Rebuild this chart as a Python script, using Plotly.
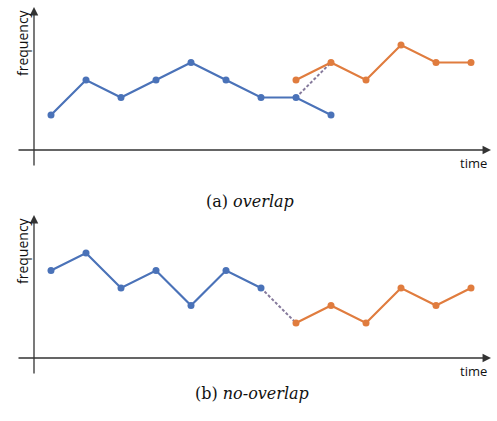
import plotly.graph_objects as go

# ---- data ----
a_blue_x = [0, 1, 2, 3, 4, 5, 6, 7, 8]
a_blue_y = [2, 4, 3, 4, 5, 4, 3, 3, 2]
a_orange_x = [7, 8, 9, 10, 11, 12]
a_orange_y = [4, 5, 4, 6, 5, 5]
a_link_x = [7, 8]
a_link_y = [3, 5]

b_blue_x = [0, 1, 2, 3, 4, 5, 6]
b_blue_y = [5, 6, 4, 5, 3, 5, 4]
b_orange_x = [7, 8, 9, 10, 11, 12]
b_orange_y = [2, 3, 2, 4, 3, 4]
b_link_x = [6, 7]
b_link_y = [4, 2]

captions = ["(a) <i>overlap</i>", "(b) <i>no-overlap</i>"]
x_label = "time"
y_label = "frequency"

BLUE = "#4a72b8"
ORANGE = "#e07c3e"
LINK = "#867a9c"
AX = "#333333"
SERIF = "DejaVu Serif, Liberation Serif, serif"
SANS = "Open Sans, Noto Sans, sans-serif"

W, H = 497, 421
X0, DX = 51, 35.0
DY = 17.5
top_split = 200
base_top, base_bot = 150, 358

xr = [(0 - X0) / DX, (W - X0) / DX]
y1r = [(base_top - top_split) / DY, base_top / DY]
y2r = [(base_bot - H) / DY, (base_bot - top_split) / DY]

fig = go.Figure()

def add_panel(xa, ya, bx, by, ox, oy, lx, ly):
    fig.add_trace(go.Scatter(x=lx, y=ly, mode="lines", xaxis=xa, yaxis=ya,
                             line=dict(color=LINK, width=2, dash="3px,2px"), hoverinfo="skip"))
    fig.add_trace(go.Scatter(x=bx, y=by, mode="lines+markers", xaxis=xa, yaxis=ya,
                             line=dict(color=BLUE, width=2.2), marker=dict(size=7, color=BLUE)))
    fig.add_trace(go.Scatter(x=ox, y=oy, mode="lines+markers", xaxis=xa, yaxis=ya,
                             line=dict(color=ORANGE, width=2.2), marker=dict(size=7, color=ORANGE)))

add_panel("x", "y", a_blue_x, a_blue_y, a_orange_x, a_orange_y, a_link_x, a_link_y)
add_panel("x2", "y2", b_blue_x, b_blue_y, b_orange_x, b_orange_y, b_link_x, b_link_y)

ax_common = dict(visible=False, range=xr, domain=[0, 1], fixedrange=True)
fig.update_layout(
    width=W, height=H,
    margin=dict(l=0, r=0, t=0, b=0),
    paper_bgcolor="white", plot_bgcolor="white",
    showlegend=False,
    xaxis=dict(ax_common, anchor="y"),
    xaxis2=dict(ax_common, anchor="y2"),
    yaxis=dict(visible=False, range=y1r, domain=[1 - top_split / H, 1], fixedrange=True),
    yaxis2=dict(visible=False, range=y2r, domain=[0, 1 - top_split / H], fixedrange=True),
)

x_start = (17 - X0) / DX
x_end = (491 - X0) / DX
yax_x = (34 - X0) / DX
y_lo = -17 / DY
y_hi = 143 / DY

anns = []
for xa, ya in [("x", "y"), ("x2", "y2")]:
    anns.append(dict(x=x_end, y=0, ax=x_start, ay=0, xref=xa, yref=ya, axref=xa, ayref=ya,
                     showarrow=True, arrowhead=2, arrowsize=1.3, arrowwidth=1.3,
                     arrowcolor=AX, text=""))
    anns.append(dict(x=yax_x, y=y_hi, ax=yax_x, ay=y_lo, xref=xa, yref=ya, axref=xa, ayref=ya,
                     showarrow=True, arrowhead=2, arrowsize=1.3, arrowwidth=1.3,
                     arrowcolor=AX, text=""))
    anns.append(dict(x=(473 - X0) / DX, y=-13 / DY, xref=xa, yref=ya, text=x_label,
                     showarrow=False, font=dict(family=SANS, size=13, color="#111")))
    anns.append(dict(x=(22 - X0) / DX, y=107 / DY, xref=xa, yref=ya, text=y_label,
                     textangle=-90, showarrow=False,
                     font=dict(family=SANS, size=14, color="#111")))

anns.append(dict(x=0.503, y=1 - 201 / H, xref="paper", yref="paper", text=captions[0],
                 showarrow=False, font=dict(family=SERIF, size=16, color="#111")))
anns.append(dict(x=0.507, y=1 - 405 / H, xref="paper", yref="paper", text=captions[1],
                 showarrow=False, font=dict(family=SERIF, size=16, color="#111")))
fig.update_layout(annotations=anns)

fig.write_html("out.html", config={"displayModeBar": False},
               post_script="document.body.style.margin='0px';")
